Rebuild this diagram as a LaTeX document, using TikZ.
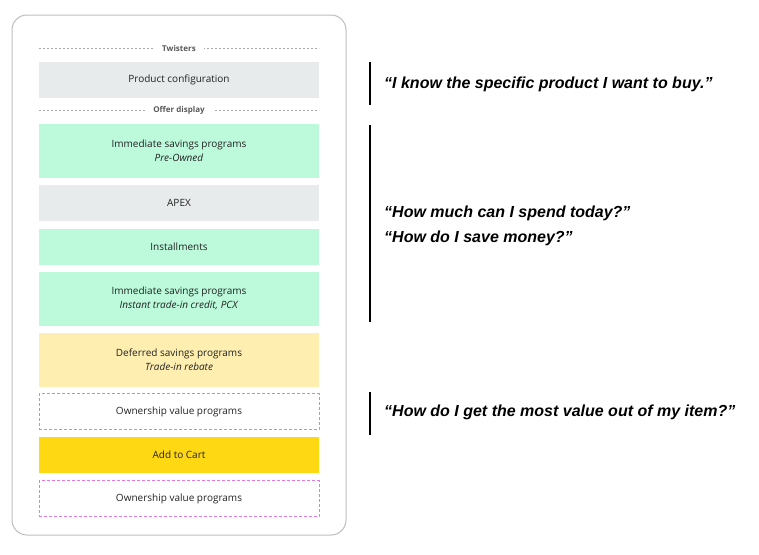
\documentclass[tikz,border=0pt]{standalone}
\usepackage{fontspec}
\setmainfont{Open Sans}
\newfontfamily\quotefont{Liberation Sans}
\definecolor{cardline}{HTML}{BDBDBD}
\definecolor{dividerline}{HTML}{A8A8A8}
\definecolor{confgray}{HTML}{E8EBEB}
\definecolor{savegreen}{HTML}{BCFADB}
\definecolor{paleyellow}{HTML}{FEEEB0}
\definecolor{cartyellow}{HTML}{FFD814}
\definecolor{ownpink}{HTML}{E27AE2}
\definecolor{boxtext}{HTML}{222222}
\tikzset{
    panel/.style={rectangle,minimum width=280pt,minimum height=36pt,inner sep=0pt,
        align=center,font=\fontsize{10}{14}\selectfont,text=boxtext},
    tall/.style={panel,minimum height=54pt},
    greybox/.style={panel,fill=confgray},
    greenbox/.style={tall,fill=savegreen},
    divider/.style={draw=dividerline,line width=0.8pt,dash pattern=on 2pt off 2pt},
    dividerlabel/.style={fill=white,inner xsep=8pt,inner ysep=2pt,text=black!65,
        font=\fontsize{8}{10}\selectfont\bfseries},
    ownbox/.style={panel,draw=ownpink,line width=0.8pt,dash pattern=on 3pt off 2pt},
    quotebar/.style={line width=2.5pt,draw=black},
    quote/.style={anchor=west,align=left,inner sep=0pt,
        font=\quotefont\fontsize{16}{25}\selectfont\bfseries\itshape},
}

\begin{document}
\begin{tikzpicture}[x=1pt,y=-1pt]
    \useasboundingbox (0,0) rectangle (759,554);
    % the phone card
    \draw[cardline,line width=1pt,rounded corners=15pt] (12,15) rectangle (346,535);

    \draw[divider] (39,48) -- (319,48);
    \node[dividerlabel] (twisters) at (179,48.5) {Twisters};
    \node[greybox] (conf) at (179,80) {Product configuration};
    \draw[divider] (39,110) -- (319,110);
    \node[dividerlabel] (offer) at (179,110.5) {Offer display};

    \node[greenbox] (preowned) at (179,150.5) {Immediate savings programs\\\textit{Pre-Owned}};
    \node[greybox] (apex) at (179,203) {APEX};
    \node[panel,fill=savegreen] (install) at (179,246.5) {Installments};
    \node[greenbox] (instant) at (179,298.5) {Immediate savings programs\\\textit{Instant trade-in credit, PCX}};
    \node[tall,fill=paleyellow] (deferred) at (179,359.5) {Deferred savings programs\\\textit{Trade-in rebate}};
    \node[ownbox] (own1) at (179,411.5) {Ownership value programs};
    \node[panel,fill=cartyellow] (cart) at (179,455) {Add to Cart};
    \node[ownbox] (own2) at (179,498.5) {Ownership value programs};

    % customer questions
    \draw[quotebar] (370,62) -- (370,105);
    \node[quote] (know) at (384,84.5) {“I know the specific product I want to buy.”};
    \draw[quotebar] (370,125) -- (370,322);
    \node[quote] (spend) at (384,226) {“How much can I spend today?”\\“How do I save money?”};
    \draw[quotebar] (370,392) -- (370,435);
    \node[quote] (value) at (384,412.5) {“How do I get the most value out of my item?”};
\end{tikzpicture}
\end{document}
